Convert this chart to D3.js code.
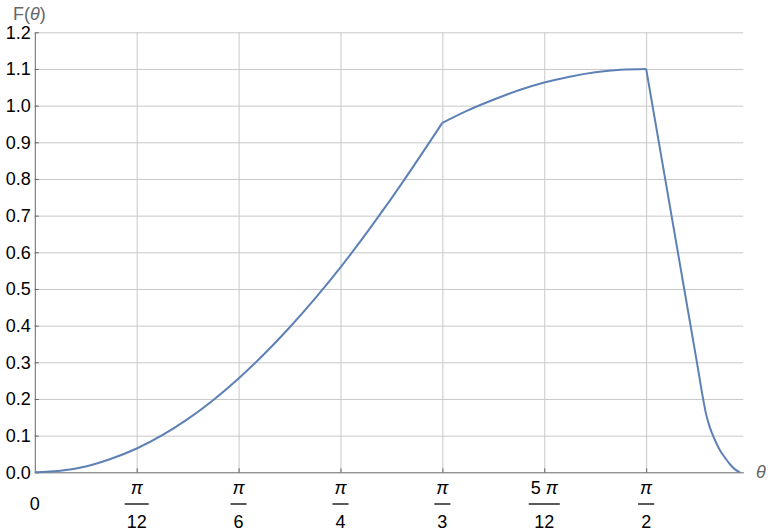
<!DOCTYPE html>
<html>
<head>
<meta charset="utf-8">
<script src="https://cdnjs.cloudflare.com/ajax/libs/d3/7.8.5/d3.min.js"></script>
<style>
  body { margin: 0; background: #fff; }
  svg { font-family: "Liberation Sans", Arial, sans-serif; }
</style>
</head>
<body>
<div id="container"></div>
<script>
let width = 768;
let height = 531;

// rising part, 0 .. pi/3
let riseTheta = [0, 0.0654, 0.1309, 0.1963, 0.2618, 0.3927, 0.5236, 0.6545, 0.7854, 0.9163, 1.0472];
let riseF = [0, 0.004, 0.016, 0.037, 0.065, 0.145, 0.256, 0.395, 0.559, 0.747, 0.953];
// arc, pi/3 .. pi/2
let arcTheta = [1.0472, 1.1126, 1.1781, 1.2435, 1.3090, 1.3744, 1.4399, 1.5053, 1.5708];
let arcF = [0.953, 0.987, 1.016, 1.042, 1.063, 1.079, 1.091, 1.098, 1.100];
// drop after pi/2
let dropTheta = [1.5708, 1.6686, 1.7020, 1.7167, 1.7245, 1.7322, 1.7399, 1.7501, 1.7604, 1.7733, 1.7861, 1.7990, 1.8118];
let dropF = [1.100, 0.500, 0.295, 0.203, 0.160, 0.130, 0.107, 0.082, 0.060, 0.040, 0.022, 0.008, 0];

let xTicks = [Math.PI / 12, Math.PI / 6, Math.PI / 4, Math.PI / 3, 5 * Math.PI / 12, Math.PI / 2];
let xNumer = ["π", "π", "π", "π", "5 π", "π"];
let xDenom = ["12", "6", "4", "3", "12", "2"];
let yTicks = [0, 0.1, 0.2, 0.3, 0.4, 0.5, 0.6, 0.7, 0.8, 0.9, 1.0, 1.1, 1.2];

let plotLeft = 34.8, plotRight = 743.3, plotTop = 32.3, plotBottom = 472.3;

let x = d3.scaleLinear().domain([0, 1.8204]).range([plotLeft, plotRight]);
let y = d3.scaleLinear().domain([0, 1.2]).range([plotBottom, plotTop]);

let svg = d3.select("#container")
  .append("svg")
  .attr("width", width)
  .attr("height", height);

// grid
svg.append("g")
  .attr("transform", `translate(0,${plotBottom})`)
  .call(d3.axisBottom(x).tickValues(xTicks).tickSize(-(plotBottom - plotTop)).tickFormat(""))
  .call(g => g.select(".domain").remove())
  .call(g => g.selectAll("line").attr("stroke", "#c8c8c8"));

svg.append("g")
  .attr("transform", `translate(${plotLeft},0)`)
  .call(d3.axisLeft(y).tickValues(yTicks.slice(1)).tickSize(-(plotRight - plotLeft)).tickFormat(""))
  .call(g => g.select(".domain").remove())
  .call(g => g.selectAll("line").attr("stroke", "#c8c8c8"));

// axes
let yAxis = svg.append("g")
  .attr("transform", `translate(${plotLeft},0)`)
  .call(d3.axisLeft(y).tickValues(yTicks).tickSizeInner(-4).tickSizeOuter(0)
    .tickPadding(4).tickFormat(d3.format(".1f")));
yAxis.select(".domain").attr("stroke", "#666");
yAxis.selectAll("line").attr("stroke", "#666");
yAxis.selectAll("text").attr("fill", "#000").style("font-size", "18px")
  .style("font-family", "Liberation Sans, Arial, sans-serif");

let xAxis = svg.append("g")
  .attr("transform", `translate(0,${plotBottom})`)
  .call(d3.axisBottom(x).tickValues(xTicks).tickSizeInner(-4).tickSizeOuter(0).tickFormat(""));
xAxis.select(".domain").attr("stroke", "#666");
xAxis.selectAll("line").attr("stroke", "#666");

// x tick labels as fractions
svg.append("text")
  .attr("x", x(0)).attr("y", 510)
  .attr("text-anchor", "middle")
  .style("font-size", "18px")
  .text("0");

let frac = svg.append("g").selectAll("g")
  .data(xTicks)
  .enter().append("g")
  .attr("transform", d => `translate(${x(d)},0)`);

frac.append("text")
  .attr("class", "num")
  .attr("y", 493.5)
  .attr("text-anchor", "middle")
  .style("font-size", "18px")
  .each(function (d, i) {
    let t = d3.select(this);
    let parts = xNumer[i].split(" ");
    if (parts.length > 1) {
      t.append("tspan").text(parts[0] + " ");
    }
    t.append("tspan").style("font-style", "italic").text("π");
  });

frac.append("text")
  .attr("class", "den")
  .attr("y", 528.3)
  .attr("text-anchor", "middle")
  .style("font-size", "18px")
  .text((d, i) => xDenom[i]);

frac.each(function () {
  let g = d3.select(this);
  let w1 = g.select(".num").node().getComputedTextLength();
  let w2 = g.select(".den").node().getComputedTextLength();
  let w = Math.max(w1, w2, 12) + 4;
  g.append("line")
    .attr("x1", -w / 2).attr("x2", w / 2)
    .attr("y1", 504).attr("y2", 504)
    .attr("stroke", "#000")
    .attr("stroke-width", 1.3);
});

// axis titles
let ft = svg.append("text")
  .attr("x", 13).attr("y", 20)
  .attr("fill", "#666")
  .style("font-size", "18px");
ft.append("tspan").text("F(");
ft.append("tspan").style("font-style", "italic").text("θ");
ft.append("tspan").text(")");

svg.append("text")
  .attr("x", 756).attr("y", 478)
  .attr("fill", "#666")
  .style("font-size", "18px")
  .style("font-style", "italic")
  .text("θ");

// curve
let line = d3.line()
  .x(d => x(d[0]))
  .y(d => y(d[1]))
  .curve(d3.curveMonotoneX);

let segments = [
  riseTheta.map((t, i) => [t, riseF[i]]),
  arcTheta.map((t, i) => [t, arcF[i]]),
  dropTheta.map((t, i) => [t, dropF[i]])
];

svg.append("g").selectAll("path")
  .data(segments)
  .enter().append("path")
  .attr("d", d => line(d))
  .attr("fill", "none")
  .attr("stroke", "#5e81b5")
  .attr("stroke-width", 2)
  .attr("stroke-linejoin", "round");
</script>
</body>
</html>
